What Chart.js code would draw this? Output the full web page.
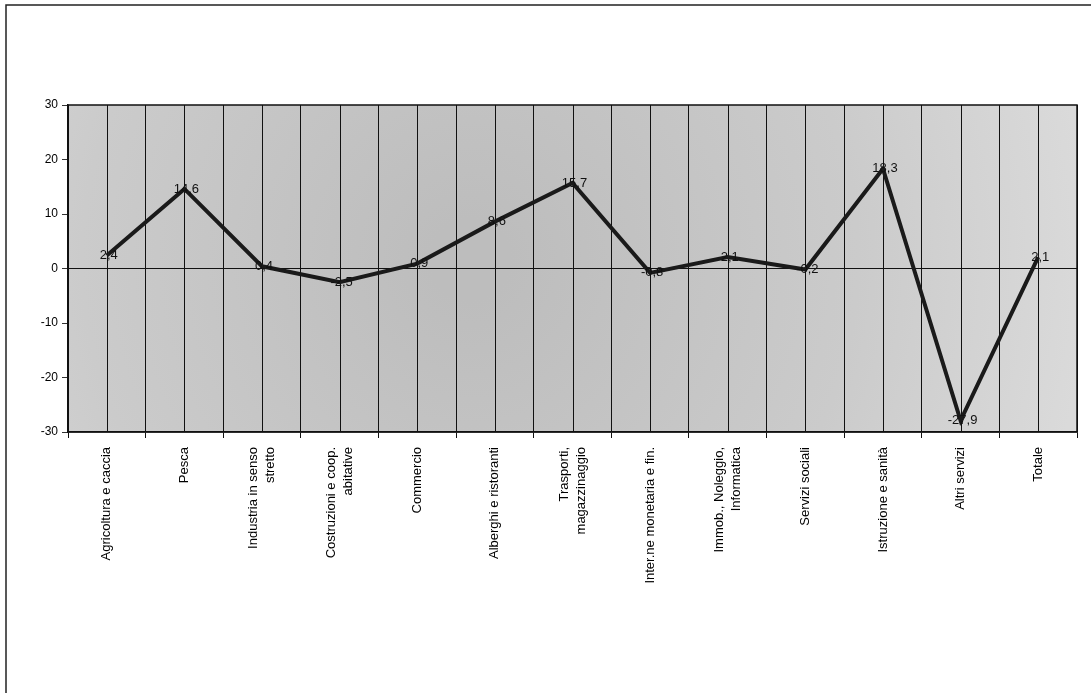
<!DOCTYPE html>
<html>
<head>
<meta charset="utf-8">
<script src="https://cdn.jsdelivr.net/npm/chart.js@4"></script>
<style>
  html, body { margin: 0; padding: 0; background: #fff; }
  #wrap { position: relative; width: 1091px; height: 693px; }
</style>
</head>
<body>
<div id="wrap"><canvas id="lineChart"></canvas></div>
<script>
// settori (etichette asse x)
const settori = [
    'Agricoltura e caccia',
    'Pesca',
    ['Industria in senso', 'stretto'],
    ['Costruzioni e coop.', 'abitative'],
    'Commercio',
    'Alberghi e ristoranti',
    ['Trasporti,', 'magazzinaggio'],
    'Inter.ne monetaria e fin.',
    ['Immob., Noleggio,', 'Informatica'],
    'Servizi sociali',
    'Istruzione e sanità',
    'Altri servizi',
    'Totale'
];
// variazioni %
const variazioni = [2.4, 14.6, 0.4, -2.5, 0.9, 8.6, 15.7, -0.8, 2.1, -0.2, 18.3, -27.9, 2.1];
const etichette = ['2,4', '14,6', '0,4', '-2,5', '0,9', '8,6', '15,7', '-0,8', '2,1', '-0,2', '18,3', '-27,9', '2,1'];
const yTicks = [-30, -20, -10, 0, 10, 20, 30];

const fonte = 'Arial, "Liberation Sans", sans-serif';
Chart.defaults.font.family = fonte;
Chart.defaults.color = '#000';

// sfondo grigio, cornice, griglia verticale ai centri
const sfondo = {
    id: 'sfondo',
    beforeDraw(chart) {
        const { ctx, chartArea: a } = chart;
        ctx.save();
        // cornice della pagina
        ctx.strokeStyle = '#222';
        ctx.lineWidth = 1.5;
        ctx.beginPath();
        ctx.moveTo(6, 693);
        ctx.lineTo(6, 5);
        ctx.lineTo(1091, 5);
        ctx.stroke();
        const g = ctx.createRadialGradient(470, 260, 40, 470, 260, 620);
        g.addColorStop(0, '#bdbdbd');
        g.addColorStop(0.6, '#cbcbcb');
        g.addColorStop(1, '#dadada');
        ctx.fillStyle = g;
        ctx.fillRect(a.left, a.top, a.right - a.left, a.bottom - a.top);
        ctx.restore();
    },
    beforeDatasetsDraw(chart) {
        const { ctx, chartArea: a, scales } = chart;
        ctx.save();
        ctx.strokeStyle = '#111';
        ctx.lineWidth = 1;
        settori.forEach((s, i) => {
            const x = Math.round(scales.x.getPixelForValue(i)) + 0.5;
            ctx.beginPath();
            ctx.moveTo(x, a.top);
            ctx.lineTo(x, a.bottom);
            ctx.stroke();
        });
        ctx.lineWidth = 1.5;
        ctx.strokeRect(a.left, a.top, a.right - a.left, a.bottom - a.top);
        ctx.restore();
    }
};

// etichette dei valori e dei settori
const testi = {
    id: 'testi',
    afterDatasetsDraw(chart) {
        const { ctx, chartArea: a, scales } = chart;
        const meta = chart.getDatasetMeta(0);
        ctx.save();
        ctx.font = '13px ' + fonte;
        ctx.fillStyle = '#111';
        ctx.textAlign = 'center';
        ctx.textBaseline = 'middle';
        meta.data.forEach((p, i) => {
            ctx.fillText(etichette[i], p.x + 2, p.y);
        });
        // etichette verticali, blocco centrato sul settore
        ctx.fillStyle = '#000';
        ctx.textAlign = 'right';
        const lh = 17;
        settori.forEach((s, i) => {
            const righe = Array.isArray(s) ? s : [s];
            const x = scales.x.getPixelForValue(i);
            righe.forEach((r, j) => {
                const lx = x + (j - (righe.length - 1) / 2) * lh;
                ctx.save();
                ctx.translate(lx, a.bottom + 15);
                ctx.rotate(-Math.PI / 2);
                ctx.fillText(r, 0, 0);
                ctx.restore();
            });
        });
        ctx.restore();
    }
};

new Chart(document.getElementById('lineChart'), {
    type: 'line',
    data: {
        labels: settori,
        datasets: [{
            label: 'variazione',
            data: variazioni,
            borderColor: '#1a1a1a',
            borderWidth: 4,
            pointRadius: 0,
            tension: 0,
            fill: false
        }]
    },
    options: {
        responsive: true,
        maintainAspectRatio: false,
        animation: false,
        layout: { padding: { top: 105, right: 14, left: 0, bottom: 0 } },
        plugins: {
            legend: { display: false },
            tooltip: { enabled: false }
        },
        scales: {
            x: {
                offset: true,
                grid: {
                    offset: true,
                    color: '#111',
                    lineWidth: 1,
                    tickLength: 6,
                    drawOnChartArea: true
                },
                border: { display: true, color: '#111', width: 1.5 },
                ticks: {
                    autoSkip: false,
                    minRotation: 90,
                    maxRotation: 90,
                    font: { size: 13 },
                    color: 'rgba(0,0,0,0)'
                },
                afterFit(scale) { scale.height = 261; }
            },
            y: {
                min: -30,
                max: 30,
                afterBuildTicks(scale) { scale.ticks = yTicks.map(v => ({ value: v })); },
                grid: {
                    color: ctx => ctx.tick && ctx.tick.value === 0 ? '#111' : 'rgba(0,0,0,0)',
                    tickColor: '#333',
                    tickLength: 6,
                    lineWidth: 1
                },
                border: { display: true, color: '#111', width: 1.5 },
                ticks: {
                    padding: 4,
                    font: { size: 12 },
                    color: '#000'
                },
                afterFit(scale) { scale.width = 68; }
            }
        }
    },
    plugins: [sfondo, testi]
});
</script>
</body>
</html>
